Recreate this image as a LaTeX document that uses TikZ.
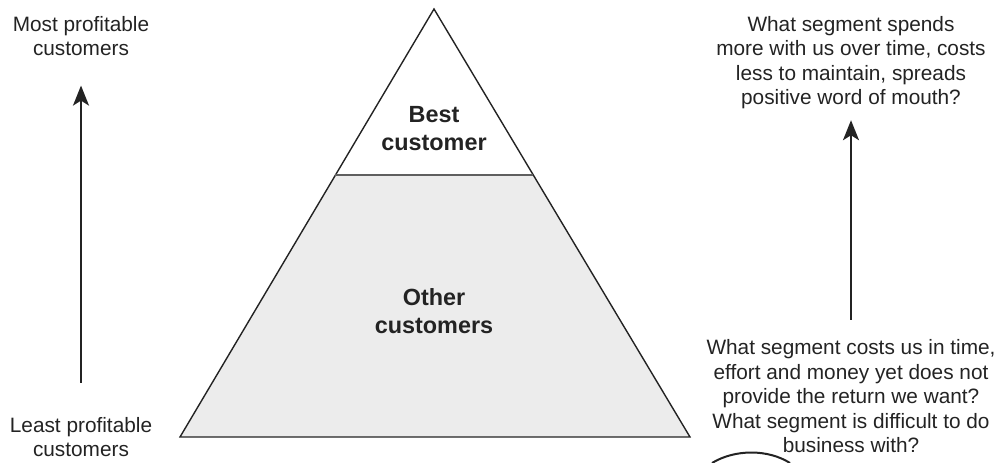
\documentclass[tikz,border=0pt]{standalone}
\usepackage{fontspec}
\setmainfont{Liberation Sans}
\usetikzlibrary{arrows.meta, calc}
\definecolor{inkgray}{RGB}{35, 35, 35}
\definecolor{pyrfill}{RGB}{236, 236, 236}
\definecolor{divgray}{RGB}{95, 95, 95}

\begin{document}
\begin{tikzpicture}[x=0.5pt, y=-0.5pt,
    label/.style={align=center, inner sep=0pt, text=inkgray, font=\fontsize{10.4}{12.25}\selectfont},
    tier/.style={align=center, inner sep=0pt, text=inkgray, font=\fontsize{11.7}{14}\selectfont\bfseries},
    uparrow/.style={line width=1pt, inkgray, -{Stealth[length=10pt, width=8pt, inset=2.5pt]}}]
    \useasboundingbox (0,0) rectangle (1001,462);

    % Pyramid
    \coordinate (apex) at (434,9);
    \coordinate (bl) at (180,437);
    \coordinate (br) at (690,437);
    \coordinate (divl) at ($(apex)!0.3879!(bl)$);
    \coordinate (divr) at ($(apex)!0.3879!(br)$);
    \fill[pyrfill] (divl) -- (divr) -- (br) -- (bl) -- cycle;
    \draw[line width=0.7pt, inkgray] (apex) -- (br) -- (bl) -- cycle;
    \draw[line width=0.9pt, divgray] (divl) -- (divr);

    % Tiers (base = last line)
    \node[tier, anchor=base] (best) at (434,150) {Best\\customer};
    \node[tier, anchor=base] (other) at (434,333) {Other\\customers};

    % Side labels
    \node[label, anchor=base] (most) at (81,55.5) {Most profitable\\customers};
    \node[label, anchor=base] (least) at (81,456.5) {Least profitable\\customers};
    \node[label, anchor=base] (spends) at (851,104.5)
        {What segment spends\\more with us over time, costs\\less to maintain, spreads\\positive word of mouth?};
    \node[label, anchor=base] (costs) at (851,452.5)
        {What segment costs us in time,\\effort and money yet does not\\provide the return we want?\\What segment is difficult to do\\business with?};

    % Arrows
    \draw[uparrow, shorten <=17pt, shorten >=14.75pt] (least.north) -- (most.south);
    \draw[uparrow, shorten <=9.75pt, shorten >=5.5pt] (costs.north) -- (spends.south);

    % Cut-off ring at the bottom edge
    \draw[line width=1pt, inkgray] (712,463) .. controls (735,449) and (768,449) .. (790,463);
\end{tikzpicture}
\end{document}
